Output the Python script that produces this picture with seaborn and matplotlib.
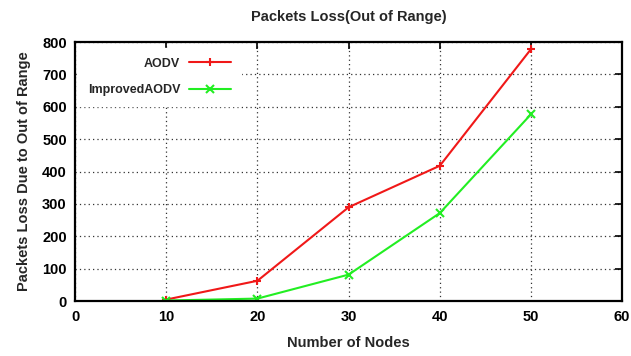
import matplotlib
matplotlib.use("Agg")
import matplotlib.pyplot as plt
import seaborn as sns
import pandas as pd

nodes = [10, 20, 30, 40, 50]
aodv = [5, 63, 290, 418, 778]
improved_aodv = [2, 8, 82, 272, 577]
series_names = ["AODV", "ImprovedAODV"]
x_ticks = [0, 10, 20, 30, 40, 50, 60]
y_ticks = [0, 100, 200, 300, 400, 500, 600, 700, 800]

df_aodv = pd.DataFrame({"Nodes": nodes, "Loss": aodv})
df_improved = pd.DataFrame({"Nodes": nodes, "Loss": improved_aodv})

sns.set_style("white")
plt.rcParams["font.family"] = ["Liberation Sans", "DejaVu Sans"]
plt.rcParams["font.weight"] = "bold"

fig = plt.figure(figsize=(6.31, 3.56), dpi=100)
ax = fig.add_axes([0.119, 0.154, 0.867, 0.728])

styles = [
    (df_aodv, series_names[0], "#f01818", "+"),
    (df_improved, series_names[1], "#22ee22", "x"),
]
for data, name, color, marker in styles:
    sns.lineplot(data=data, x="Nodes", y="Loss", color=color, marker=marker,
                 markersize=5.5, markeredgewidth=1.5, markeredgecolor=color,
                 linewidth=1.5, label=name, ax=ax)

ax.set_xlim(0, 60)
ax.set_ylim(0, 800)
ax.set_xticks(x_ticks)
ax.set_yticks(y_ticks)
ax.tick_params(direction="in", length=5, width=1.2, top=True, right=True,
               labelsize=10.5, pad=6, colors="black")
for lab in ax.get_xticklabels() + ax.get_yticklabels():
    lab.set_fontweight("bold")
ax.grid(True, linestyle=(0, (1, 2.5)), color="#333333", linewidth=0.9)
for s in ax.spines.values():
    s.set_color("black")
    s.set_linewidth(1.6)

ax.set_title("Packets Loss(Out of Range)", fontsize=10.5, fontweight="bold", pad=15)
ax.set_xlabel("Number of Nodes", fontsize=10.5, fontweight="bold", labelpad=9)
ax.set_ylabel("Packets Loss Due to Out of Range", fontsize=10.5, fontweight="bold", labelpad=8)

leg = ax.legend(loc="upper left", bbox_to_anchor=(-0.002, 0.993), markerfirst=False,
                frameon=True, fancybox=False, framealpha=1, edgecolor="white",
                fontsize=9, handlelength=3.4, labelspacing=1.15, borderpad=0.8,
                borderaxespad=0.3, handletextpad=0.7)
for t in leg.get_texts():
    t.set_fontweight("bold")
leg._legend_box.align = "right"
for vp in leg._legend_handle_box.get_children():
    vp.align = "right"

fig.savefig("out.png", dpi=100)
